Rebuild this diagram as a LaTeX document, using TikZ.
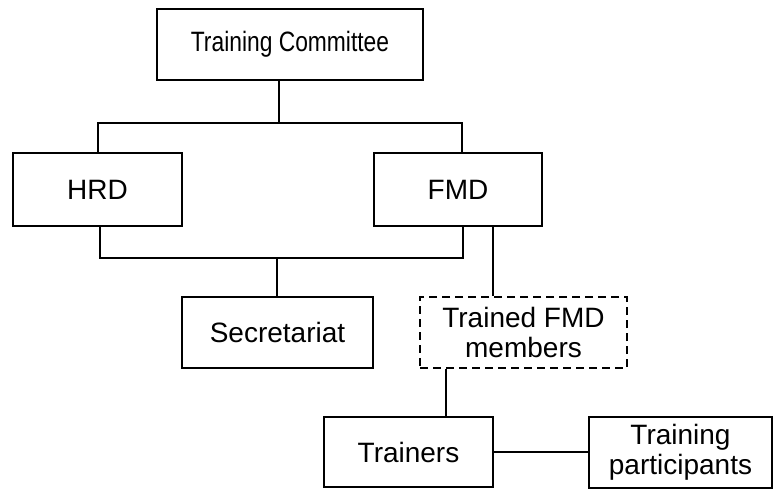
\documentclass[tikz,border=0pt]{standalone}
\usepackage{fontspec}
\setmainfont{Liberation Sans}
\newfontfamily\narrowfont[FakeStretch=0.815]{Liberation Sans}
\begin{document}
\begin{tikzpicture}[x=1pt,y=-1pt,
  box/.style={draw,line width=2pt,inner sep=0pt,align=center,
    font=\fontsize{28}{30}\selectfont},
  link/.style={line width=2pt}]
\useasboundingbox (0,0) rectangle (773,489);
\node[box,minimum width=266pt,minimum height=71pt,font=\narrowfont\fontsize{28}{30}\selectfont] (tc) at (290,44.5) {Training Committee};
\node[box,minimum width=169pt,minimum height=72pt] (hrd) at (97.5,189.5) {HRD};
\node[box,minimum width=168pt,minimum height=72pt] (fmd) at (458,189.5) {FMD};
\node[box,minimum width=191pt,minimum height=71pt] (sec) at (277.5,332.5) {Secretariat};
\node[box,dash pattern=on 8pt off 5pt,minimum width=207pt,minimum height=71pt] (tfm) at (523.5,332.5) {Trained FMD\\members};
\node[box,minimum width=169pt,minimum height=70pt] (trn) at (408.5,452) {Trainers};
\node[box,minimum width=183pt,minimum height=71pt] (tp) at (680.5,452.5) {Training\\participants};
\coordinate (bt) at (279,123);
\coordinate (bl) at (98,123);
\coordinate (br) at (462,123);
\coordinate (ql) at (100,258);
\coordinate (qr) at (463,258);
\coordinate (qs) at (277,258);
\coordinate (fx) at (493,0);
\coordinate (tx) at (446,0);
\draw[link] (tc.south -| bt) -- (bt);
\draw[link] (hrd.north -| bl) -- (bl) -- (br) -- (fmd.north -| br);
\draw[link] (hrd.south -| ql) -- (ql) -- (qr) -- (fmd.south -| qr);
\draw[link] (qs) -- (sec.north -| qs);
\draw[link] (fmd.south -| fx) -- (tfm.north -| fx);
\draw[link] (tfm.south -| tx) -- (trn.north -| tx);
\draw[link] (trn.east) -- (tp.west |- trn.east);
\end{tikzpicture}
\end{document}
